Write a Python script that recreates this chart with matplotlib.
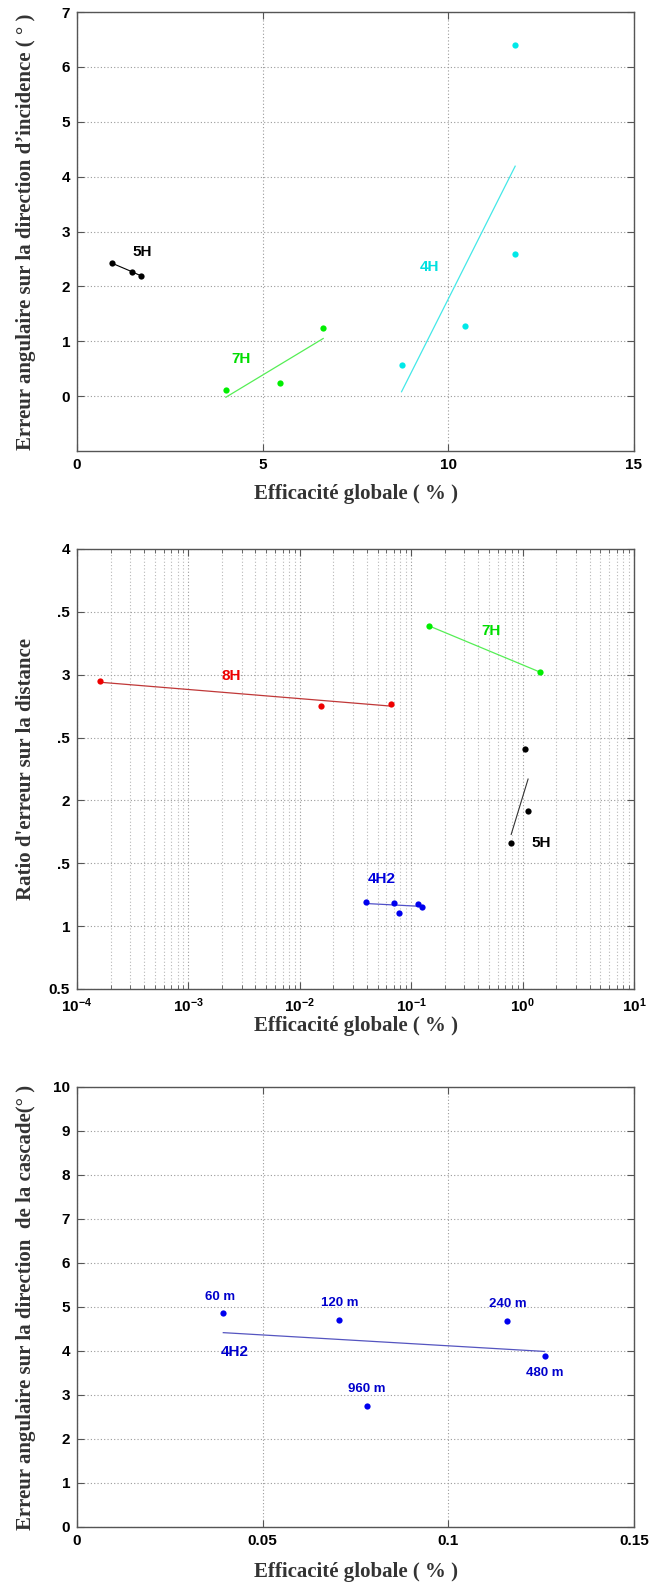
import matplotlib
matplotlib.use("Agg")
import matplotlib.pyplot as plt
from matplotlib.ticker import LogLocator, NullFormatter, FixedLocator

# ---------------- data ----------------
# Top chart: angular error on incidence direction vs global efficiency
x5H_top = [0.95, 1.47, 1.73]
y5H_top = [2.42, 2.27, 2.19]
x7H_top = [4.01, 5.48, 6.63]
y7H_top = [0.11, 0.24, 1.24]
fit7H_top_x = [4.01, 6.63]
fit7H_top_y = [-0.02, 1.05]
x4H_top = [8.74, 10.44, 11.8, 11.8]
y4H_top = [0.56, 1.27, 2.59, 6.40]
fit4H_top_x = [8.74, 11.8]
fit4H_top_y = [0.08, 4.19]

# Middle chart: distance error ratio vs global efficiency (log x)
x8H = [1.62e-4, 0.0154, 0.0664]
y8H = [2.95, 2.75, 2.77]
fit8H_x = [1.62e-4, 0.0664]
fit8H_y = [2.94, 2.75]
x7H = [0.143, 1.44]
y7H = [3.39, 3.02]
x5H = [0.79, 1.05, 1.12]
y5H = [1.665, 2.41, 1.912]
fit5H_x = [0.79, 1.12]
fit5H_y = [1.73, 2.17]
x4H2 = [0.0392, 0.0702, 0.0775, 0.1143, 0.1245]
y4H2 = [1.189, 1.181, 1.104, 1.178, 1.149]
fit4H2_x = [0.0392, 0.1245]
fit4H2_y = [1.18, 1.157]
mid_yticks = [0.5, 1, 1.5, 2, 2.5, 3, 3.5, 4]
mid_yticklabels = ['0.5', '1', '.5', '2', '.5', '3', '.5', '4']

# Bottom chart: angular error on cascade direction, 4H2
dist_names = ['60 m', '120 m', '960 m', '240 m', '480 m']
x_cas = [0.0394, 0.0705, 0.0781, 0.1159, 0.1259]
y_cas = [4.856, 4.705, 2.75, 4.69, 3.894]
fit_cas_x = [0.0394, 0.1259]
fit_cas_y = [4.417, 3.99]

# ---------------- style ----------------
W, H = 650, 1584
fig = plt.figure(figsize=(W / 100, H / 100), dpi=100)
tick_font = dict(family='Liberation Sans', size=11, weight='bold')
lab_font = dict(family='Liberation Serif', size=15, weight='bold', color='#333333')
txt_font = dict(family='Liberation Sans', size=11, weight='bold')
spine_col = '#555555'
grid_kw = dict(color='#9a9a9a', linestyle=(0, (1, 2)), linewidth=0.8)
minor_grid_kw = dict(color='#b8b8b8', linestyle=(0, (1, 2)), linewidth=0.8)


def ax_rect(l, t, r, b):
    return [l / W, 1 - b / H, (r - l) / W, (b - t) / H]


def style(ax):
    for s in ax.spines.values():
        s.set_color(spine_col)
        s.set_linewidth(1.0)
    ax.tick_params(which='both', direction='in', top=True, right=True,
                   color=spine_col, labelcolor='black')
    ax.tick_params(which='major', length=5, pad=5)
    ax.tick_params(which='minor', length=3)
    for lbl in ax.get_xticklabels() + ax.get_yticklabels():
        lbl.set_fontfamily(tick_font['family'])
        lbl.set_fontsize(tick_font['size'])
        lbl.set_fontweight(tick_font['weight'])
    ax.set_axisbelow(True)


ms = 4.5

# ---------------- top ----------------
ax1 = fig.add_axes(ax_rect(77, 12, 634, 451))
ax1.set_xlim(0, 15)
ax1.set_ylim(-1, 7)
ax1.set_xticks([0, 5, 10, 15])
ax1.set_yticks([0, 1, 2, 3, 4, 5, 6, 7])
ax1.grid(True, **grid_kw)
ax1.plot(x5H_top, y5H_top, '-', color='black', lw=0.8)
ax1.plot(x5H_top, y5H_top, 'o', color='black', ms=ms, mec='none')
ax1.plot(fit7H_top_x, fit7H_top_y, '-', color='#55ee55', lw=0.9)
ax1.plot(x7H_top, y7H_top, 'o', color='#00ee00', ms=ms, mec='none')
ax1.plot(fit4H_top_x, fit4H_top_y, '-', color='#44e8e8', lw=0.9)
ax1.plot(x4H_top, y4H_top, 'o', color='#00e8e8', ms=ms, mec='none')
ax1.text(1.77, 2.62, '5H', color='black', ha='center', va='center', **txt_font)
ax1.text(4.41, 0.67, '7H', color='#00dd00', ha='center', va='center', **txt_font)
ax1.text(9.5, 2.35, '4H', color='#00e0e0', ha='center', va='center', **txt_font)
ax1.set_xlabel('Efficacité globale ( % )', **lab_font)
ax1.set_ylabel('Erreur angulaire sur la direction d\u2019incidence ( \u00b0 )', **lab_font)
style(ax1)

# ---------------- middle ----------------
ax2 = fig.add_axes(ax_rect(77, 549, 634, 989))
ax2.set_xscale('log')
ax2.set_xlim(1e-4, 10)
ax2.set_ylim(0.5, 4)
ax2.xaxis.set_major_locator(LogLocator(base=10, numticks=10))
ax2.xaxis.set_minor_locator(LogLocator(base=10, subs=range(2, 10), numticks=100))
ax2.xaxis.set_minor_formatter(NullFormatter())
ax2.yaxis.set_major_locator(FixedLocator(mid_yticks))
ax2.set_yticklabels(mid_yticklabels)
ax2.grid(True, which='major', **grid_kw)
ax2.grid(True, which='minor', axis='x', **minor_grid_kw)
ax2.plot(fit8H_x, fit8H_y, '-', color='#c03838', lw=0.9)
ax2.plot(x8H, y8H, 'o', color='#ee0000', ms=ms, mec='none')
ax2.plot(x7H, y7H, '-', color='#55ee55', lw=0.9)
ax2.plot(x7H, y7H, 'o', color='#00ee00', ms=ms, mec='none')
ax2.plot(fit5H_x, fit5H_y, '-', color='#333333', lw=0.8)
ax2.plot(x5H, y5H, 'o', color='black', ms=ms, mec='none')
ax2.plot(fit4H2_x, fit4H2_y, '-', color='#5050c8', lw=0.9)
ax2.plot(x4H2, y4H2, 'o', color='#0000ee', ms=ms, mec='none')
ax2.text(2.41e-3, 2.99, '8H', color='#ee0000', ha='center', va='center', **txt_font)
ax2.text(0.524, 3.35, '7H', color='#00dd00', ha='center', va='center', **txt_font)
ax2.text(1.46, 1.665, '5H', color='black', ha='center', va='center', **txt_font)
ax2.text(0.0542, 1.375, '4H2', color='#0000dd', ha='center', va='center', **txt_font)
ax2.set_xlabel('Efficacité globale ( % )', **lab_font)
ax2.set_ylabel('Ratio d\'erreur sur la distance', **lab_font)
style(ax2)

# ---------------- bottom ----------------
ax3 = fig.add_axes(ax_rect(77, 1087, 634, 1527))
ax3.set_xlim(0, 0.15)
ax3.set_ylim(0, 10)
ax3.set_xticks([0, 0.05, 0.1, 0.15])
ax3.set_xticklabels(['0', '0.05', '0.1', '0.15'])
ax3.set_yticks(range(0, 11))
ax3.grid(True, **grid_kw)
ax3.plot(fit_cas_x, fit_cas_y, '-', color='#5555c0', lw=0.9)
ax3.plot(x_cas, y_cas, 'o', color='#0000ee', ms=ms, mec='none')
lbl_pos = {'60 m': (0.0386, 5.22), '120 m': (0.0707, 5.09), '960 m': (0.078, 3.13),
           '240 m': (0.1159, 5.06), '480 m': (0.1259, 3.49)}
for name in dist_names:
    px, py = lbl_pos[name]
    ax3.text(px, py, name, color='#0000cc', ha='center', va='center',
             family='Liberation Sans', size=9.5, weight='bold')
ax3.text(0.0424, 3.98, '4H2', color='#0000cc', ha='center', va='center', **txt_font)
ax3.set_xlabel('Efficacité globale ( % )', **lab_font)
ax3.set_ylabel('Erreur angulaire sur la direction  de la cascade(\u00b0 )', **lab_font)
style(ax3)

# label placement
for ax, top, bot, xl_y in [(ax1, 12, 451, 494), (ax2, 549, 989, 1026), (ax3, 1087, 1527, 1572)]:
    h = bot - top
    ax.xaxis.set_label_coords(0.5, -(xl_y - bot) / h)
    ax.xaxis.label.set_va('center')
    ax.yaxis.set_label_coords(-(77 - 26) / 557, 0.5)
    ax.yaxis.label.set_va('center')

fig.savefig('out.png', dpi=100)
